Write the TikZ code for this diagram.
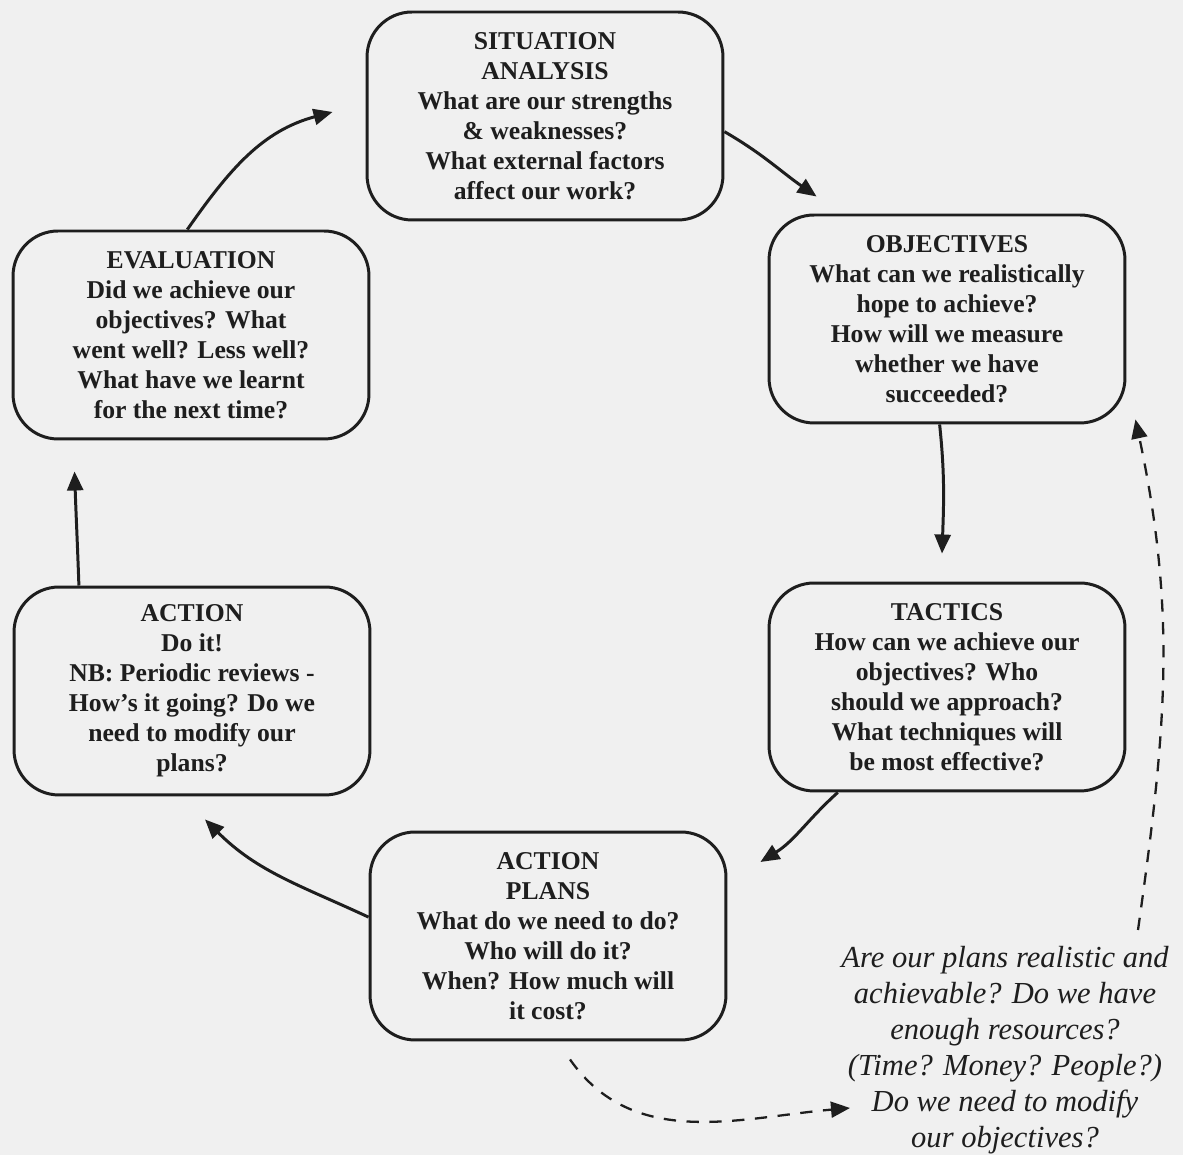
\documentclass[tikz,border=0pt]{standalone}
\usepackage{fontspec}
\setmainfont{Liberation Serif}
\usepackage{xcolor}
\usetikzlibrary{positioning,calc,arrows.meta}
\definecolor{paper}{HTML}{F0F0F0}
\definecolor{ink}{HTML}{1E1E1E}
\tikzset{
  stage/.style={draw=ink, line width=1.7pt, rounded corners=0.9cm, minimum width=7.12cm, minimum height=4.16cm, align=center, text=ink, font=\fontsize{14.6}{17.07}\selectfont\bfseries},
  flow/.style={-{Triangle[length=0.38cm,width=0.32cm]}, line width=1.7pt, draw=ink},
  review/.style={flow, line width=1.3pt, dash pattern=on 7pt off 6pt}
}

\begin{document}
\begin{tikzpicture}[x=0.02cm,y=0.02cm]
  \useasboundingbox (0,0) rectangle (1183,1155);
  \fill[paper] (0,0) rectangle (1183,1155);

  \node[stage] (sit) at (545,1039) {SITUATION\\ANALYSIS\\What are our strengths\\\& weaknesses?\\What external factors\\affect our work?};
  \node[stage] (obj) at (947,836) {OBJECTIVES\\What can we realistically\\hope to achieve?\\How will we measure\\whether we have\\succeeded?};
  \node[stage] (tac) at (947,468) {TACTICS\\How can we achieve our\\objectives? Who\\should we approach?\\What techniques will\\be most effective?};
  \node[stage] (plans) at (548,219) {ACTION\\PLANS\\What do we need to do?\\Who will do it?\\When? How much will\\it cost?};
  \node[stage] (act) at (192,464) {ACTION\\Do it!\\NB: Periodic reviews -\\How's it going? Do we\\need to modify our\\plans?};
  \node[stage] (eval) at (191,820) {EVALUATION\\Did we achieve our\\objectives? What\\went well? Less well?\\What have we learnt\\for the next time?};

  \node[align=center, text=ink, font=\fontsize{17.4}{20.5}\selectfont\itshape] (query) at (1005,105) {Are our plans realistic and\\achievable? Do we have\\enough resources?\\(Time? Money? People?)\\Do we need to modify\\our objectives?};
  \coordinate (qin) at (850,47);
  \coordinate (qout) at (1138,225);

  \draw[flow] (eval.92) to[out=55,in=195] ($(sit.west)+(-33,4)$);
  \draw[flow] (sit.-5) to[out=-30,in=145] ($(obj.north west)+(49,17)$);
  \draw[flow] (obj.-94) to[out=-84,in=88] ($(tac.north)+(-5,28)$);
  \draw[flow] (tac.-136) to[out=-138,in=32] ($(plans.east)+(33,74)$);
  \draw[flow] (plans.174) to[out=155,in=-45] ($(act.south)+(13,-23)$);
  \draw[flow] (act.137) to[out=92,in=-88] ($(eval.south west)+(63,-31)$);

  \draw[review] ($(plans.south)+(22,-18)$) to[out=-55,in=185] (qin);
  \draw[review] (qout) to[out=82,in=-78] ($(obj.south east)+(9,5)$);
\end{tikzpicture}
\end{document}
